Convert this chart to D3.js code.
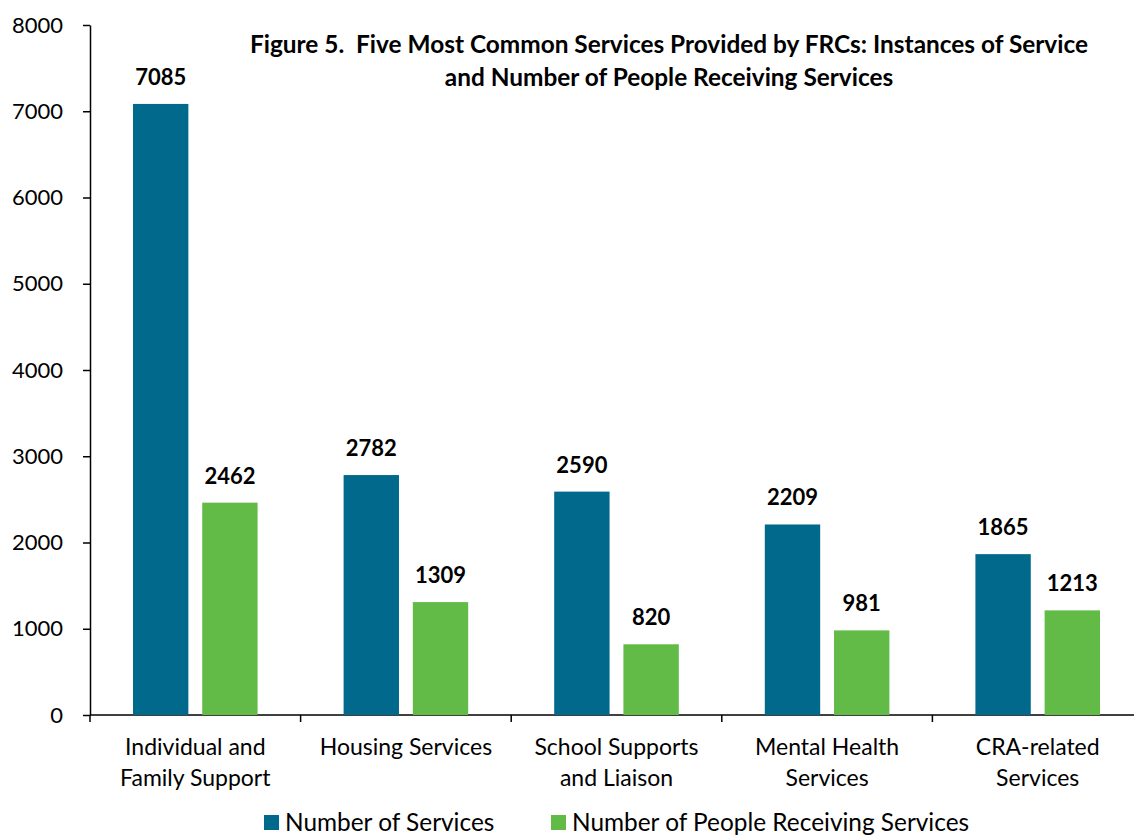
<!DOCTYPE html>
<html>
<head>
<meta charset="utf-8">
<script src="https://cdn.jsdelivr.net/npm/d3@7/dist/d3.min.js"></script>
<style>
  body { margin: 0; background: #fff; }
  svg text { font-family: Lato, "Open Sans", sans-serif; fill: #000; white-space: pre; }
</style>
</head>
<body>
<div id="vis"></div>
<script>
// data
var categories = [
    ["Individual and", "Family Support"],
    ["Housing Services"],
    ["School Supports", "and Liaison"],
    ["Mental Health", "Services"],
    ["CRA-related", "Services"]
];
var seriesNames = ["Number of Services", "Number of People Receiving Services"];
var servicesValues = [7085, 2782, 2590, 2209, 1865];
var peopleValues = [2462, 1309, 820, 981, 1213];
var yTicks = [0, 1000, 2000, 3000, 4000, 5000, 6000, 7000, 8000];
var titleLines = [
    "Figure 5.  Five Most Common Services Provided by FRCs: Instances of Service",
    "and Number of People Receiving Services"
];
var colors = ["#00698c", "#62bb46"];

var width = 1134, height = 836;
var margin = { left: 90, top: 25, right: -9, bottom: 121 };

var svg = d3.select("#vis")
    .append("svg")
        .attr("width", width)
        .attr("height", height);

var innerW = width - margin.left - margin.right;
var innerH = height - margin.top - margin.bottom;

var g = svg.append("g")
    .attr("transform", "translate(" + margin.left + "," + margin.top + ")");

var x0 = d3.scaleBand()
    .domain(d3.range(categories.length))
    .range([0, innerW])
    .paddingInner(0)
    .paddingOuter(0);

var x1 = d3.scaleBand()
    .domain([0, 1])
    .range([43, x0.bandwidth() - 43])
    .paddingInner(0.2);

var y = d3.scaleLinear()
    .domain([0, 8000])
    .range([innerH, 0]);

// y axis
var yAxis = g.append("g")
    .call(d3.axisLeft(y).tickValues(yTicks).tickFormat(d3.format("d"))
        .tickSize(7).tickSizeOuter(0).tickPadding(20));
yAxis.select(".domain").attr("stroke", "#000").attr("stroke-width", 1.5);
yAxis.selectAll(".tick line").attr("stroke", "#000").attr("stroke-width", 1.5);
yAxis.selectAll(".tick text").style("font-size", "22px").attr("fill", "#000");

// x axis
var xAxis = g.append("g")
    .attr("transform", "translate(0," + innerH + ")");
xAxis.append("line")
    .attr("x1", 0).attr("x2", innerW)
    .attr("stroke", "#000").attr("stroke-width", 1.5);
xAxis.selectAll(".xtick")
    .data(d3.range(categories.length + 1))
    .enter().append("line")
    .attr("class", "xtick")
    .attr("x1", function(d) { return d * x0.bandwidth(); })
    .attr("x2", function(d) { return d * x0.bandwidth(); })
    .attr("y1", 0).attr("y2", 7)
    .attr("stroke", "#000").attr("stroke-width", 1.5);

var catLabels = xAxis.selectAll(".cat")
    .data(categories)
    .enter().append("text")
    .attr("class", "cat")
    .attr("text-anchor", "middle")
    .style("font-size", "23px")
    .attr("transform", function(d, i) { return "translate(" + (x0(i) + x0.bandwidth() / 2) + ",0)"; });
catLabels.selectAll("tspan")
    .data(function(d) { return d; })
    .enter().append("tspan")
    .attr("x", 0)
    .attr("y", function(d, i) { return 40 + i * 31; })
    .text(function(d) { return d; });

// bars
var rows = categories.map(function(c, i) { return [servicesValues[i], peopleValues[i]]; });

var groups = g.selectAll(".grp")
    .data(rows)
    .enter().append("g")
    .attr("class", "grp")
    .attr("transform", function(d, i) { return "translate(" + x0(i) + ",0)"; });

groups.selectAll("rect")
    .data(function(d) { return d; })
    .enter().append("rect")
    .attr("x", function(d, j) { return x1(j); })
    .attr("width", x1.bandwidth())
    .attr("y", function(d) { return y(d); })
    .attr("height", function(d) { return innerH - y(d); })
    .attr("fill", function(d, j) { return colors[j]; });

groups.selectAll(".val")
    .data(function(d) { return d; })
    .enter().append("text")
    .attr("class", "val")
    .attr("text-anchor", "middle")
    .attr("x", function(d, j) { return x1(j) + x1.bandwidth() / 2; })
    .attr("y", function(d) { return y(d) - 19; })
    .style("font-size", "22px")
    .style("font-weight", "bold")
    .text(function(d) { return d; });

// title
svg.selectAll(".title")
    .data(titleLines)
    .enter().append("text")
    .attr("class", "title")
    .attr("text-anchor", "middle")
    .attr("x", 669)
    .attr("y", function(d, i) { return 53 + i * 33; })
    .style("font-size", "24.4px")
    .style("font-weight", "bold")
    .text(function(d) { return d; });

// legend
var legendX = [264, 551];
var legend = svg.selectAll(".leg")
    .data(seriesNames)
    .enter().append("g")
    .attr("class", "leg")
    .attr("transform", function(d, i) { return "translate(" + legendX[i] + ",815)"; });
legend.append("rect")
    .attr("width", 15).attr("height", 15)
    .attr("fill", function(d, i) { return colors[i]; });
legend.append("text")
    .attr("x", 21)
    .attr("y", 16)
    .style("font-size", "24.4px")
    .text(function(d) { return d; });
</script>
</body>
</html>
